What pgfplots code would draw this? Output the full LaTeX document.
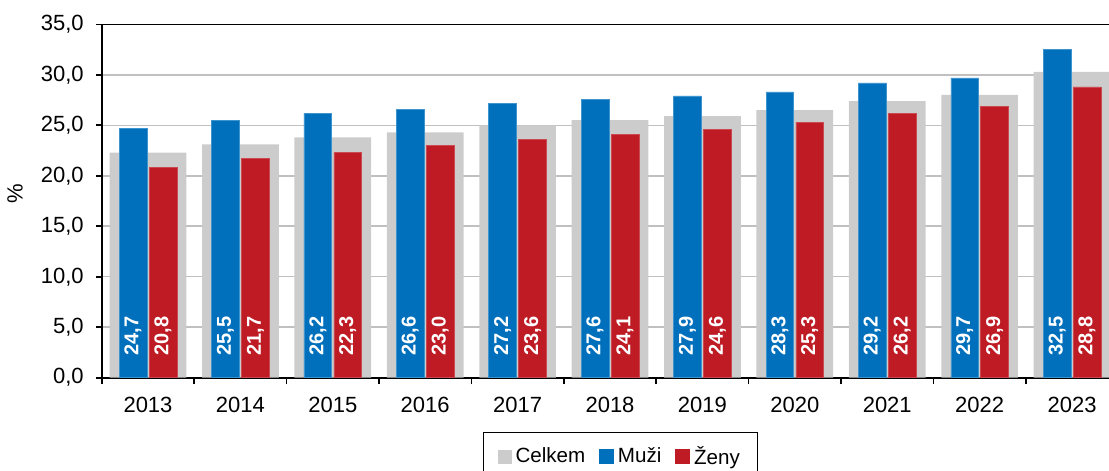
\documentclass[border=0pt]{standalone}
\usepackage{fontspec}
\setmainfont{Liberation Sans}
\usepackage{pgfplots}
\usepackage{pgfplotstable}
\pgfplotsset{compat=1.18}
\definecolor{celkem}{RGB}{204,204,204}
\definecolor{muzi}{RGB}{0,112,188}
\definecolor{zeny}{RGB}{190,27,36}
\definecolor{mriz}{RGB}{192,192,192}

% podil podle pohlavi, 2013-2023
\pgfplotstableread{
x rok celkem muzi zeny
0 2013 22.3 24.7 20.8
1 2014 23.1 25.5 21.7
2 2015 23.8 26.2 22.3
3 2016 24.3 26.6 23.0
4 2017 25.0 27.2 23.6
5 2018 25.5 27.6 24.1
6 2019 25.9 27.9 24.6
7 2020 26.5 28.3 25.3
8 2021 27.4 29.2 26.2
9 2022 28.0 29.7 26.9
10 2023 30.3 32.5 28.8
}\data

\pgfplotsset{
  popisky/.style={
    nodes near coords={\pgfmathprintnumber{\pgfplotspointmeta}},
    visualization depends on={y \as \rawy},
    every node near coord/.append style={
      shift={(axis direction cs:0,{4.14-\rawy})},
      rotate=90, anchor=center, text=white,
      font=\fontsize{10}{12}\selectfont\bfseries},
  },
}

\begin{document}
\begin{tikzpicture}
\begin{axis}[name=ax, scale only axis, width=503.6pt, height=176.7pt,
  xmin=-0.5, xmax=10.40, ymin=0, ymax=35,
  clip=false,
  axis x line*=bottom, axis y line*=left,
  axis line style={black, line width=0.8pt},
  ybar,
  tick align=outside,
  xtick={0,...,10},
  xticklabels={2013,2014,2015,2016,2017,2018,2019,2020,2021,2022,2023},
  major x tick style={draw=none},
  minor xtick={-0.5,0.5,...,9.5},
  minor x tick style={black, line width=0.8pt},
  minor tick length=3.3pt,
  ytick={0,5,...,35},
  major y tick style={black, line width=0.8pt},
  major tick length=3pt,
  ymajorgrids, major grid style={mriz, line width=0.75pt},
  tick label style={font=\fontsize{11}{13}\selectfont},
  yticklabel style={xshift=-2.5pt},
  xticklabel style={yshift=-3pt},
  /pgf/number format/assume math mode=true,
  /pgf/number format/use comma,
  /pgf/number format/fixed,
  /pgf/number format/fixed zerofill,
  /pgf/number format/precision=1,
  ylabel={\%},
  ylabel style={at={(axis description cs:-0.0862,0.521)}, anchor=center, font=\fontsize{11}{13}\selectfont},
  legend columns=3,
  legend style={at={(axis description cs:0,0)}, anchor=north west,
    xshift=190.6pt, yshift=-27pt, draw=black, line width=0.5pt,
    font=\fontsize{10.3}{12}\selectfont, inner xsep=7pt, inner ysep=5pt,
    /tikz/every even column/.append style={column sep=5pt}},
]
\addplot[fill=celkem, draw=none, bar width=0.83, bar shift=0,
  legend image code/.code={\fill[celkem] (0pt,-3.5pt) rectangle (7pt,3.5pt);}]
  table[x=x, y=celkem]{\data};
\addlegendentry{Celkem}
\addplot[fill=muzi, draw=muzi!75!white, line width=0.3pt, bar width=0.30, bar shift=-0.162, popisky,
  legend image code/.code={\fill[muzi] (0pt,-3.5pt) rectangle (7pt,3.5pt);}]
  table[x=x, y=muzi]{\data};
\addlegendentry{Muži}
\addplot[fill=zeny, draw=zeny!80!white, line width=0.3pt, bar width=0.30, bar shift=0.162, popisky,
  legend image code/.code={\fill[zeny] (0pt,-3.5pt) rectangle (7pt,3.5pt);}]
  table[x=x, y=zeny]{\data};
\addlegendentry{Ženy}
\draw[black, line width=0.8pt] (rel axis cs:0,1) -- (rel axis cs:1,1);
\end{axis}
\pgfresetboundingbox
\path[use as bounding box] ([shift={(-50.9pt,-46.65pt)}]ax.south west) rectangle ([shift={(0pt,12.15pt)}]ax.north east);
\end{tikzpicture}
\end{document}
